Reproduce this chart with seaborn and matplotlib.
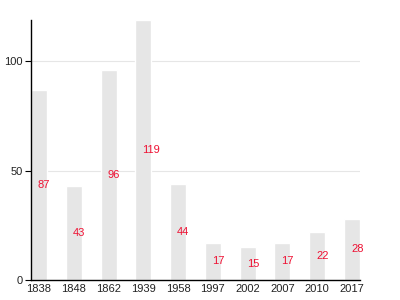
import matplotlib
matplotlib.use("Agg")
import matplotlib.pyplot as plt
import seaborn as sns
import pandas as pd

years = ["1838", "1848", "1862", "1939", "1958", "1997", "2002", "2007", "2010", "2017"]
values = [87, 43, 96, 119, 44, 17, 15, 17, 22, 28]
yticks = [0, 50, 100]

sns.set_style("white")
plt.rcParams['font.family'] = ['Liberation Sans', 'DejaVu Sans']

df = pd.DataFrame({"year": years, "value": values})

fig = plt.figure(figsize=(4, 3), dpi=100)
ax = fig.add_axes([0.0775, 0.0667, 0.8225, 0.8667])
w = 0.46
sns.barplot(data=df, x="year", y="value", order=years, color="#e6e6e6",
            saturation=1, width=w, ax=ax, zorder=2)
ax.set_xlim(-w / 2, len(years) - 1 + w / 2)
ax.set_ylim(0, max(values))
ax.set_yticks(yticks)
ax.yaxis.grid(True, color="#e6e6e6", linewidth=0.8, zorder=0)
ax.set_axisbelow(True)
for i, v in enumerate(values):
    ax.text(i - 0.03, v / 2, str(v), color="#ee1133", fontsize=8,
            ha="left", va="center", zorder=3)
ax.set_xlabel("")
ax.set_ylabel("")
for s in ["top", "right"]:
    ax.spines[s].set_visible(False)
for s in ["left", "bottom"]:
    ax.spines[s].set_color("black")
    ax.spines[s].set_linewidth(1)
ax.tick_params(axis="y", length=4, width=0.8, color="black", labelsize=8, pad=2, left=True, labelcolor="#222222")
ax.tick_params(axis="x", length=0, labelsize=8, pad=3, labelcolor="#222222")
fig.savefig("out.png", dpi=100)
